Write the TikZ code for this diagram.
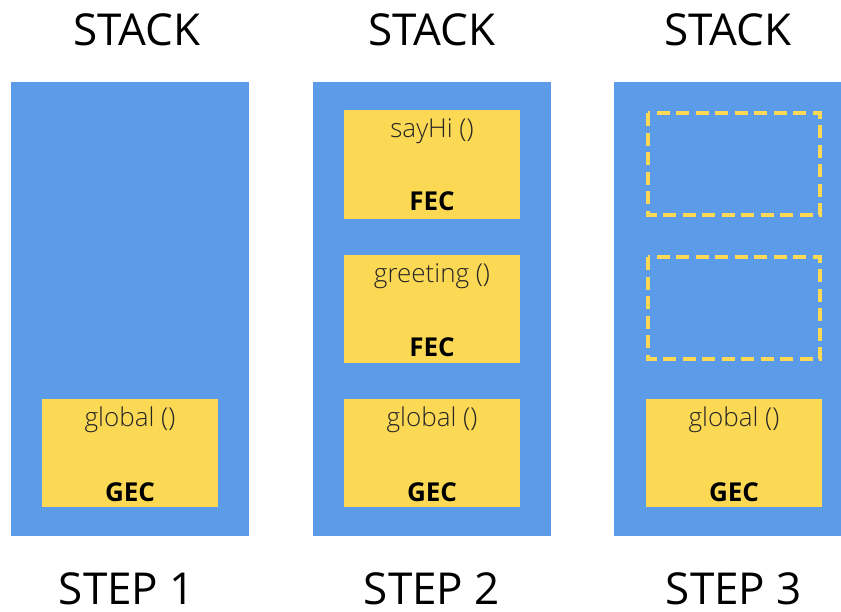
\documentclass[tikz,border=0pt]{standalone}
\usepackage{fontspec}
\setmainfont{Open Sans}
\newfontfamily\lightface{Open Sans Light}
\definecolor{stackblue}{RGB}{91,155,232}
\definecolor{frameyellow}{RGB}{252,217,84}
\begin{document}
\begin{tikzpicture}[x=1pt,y=-1pt,
  panel/.style={fill=stackblue,draw=none},
  frame/.style={fill=frameyellow,draw=none},
  emptyframe/.style={draw=frameyellow,line width=3.6pt,dash pattern=on 13pt off 6.5pt},
  heading/.style={font=\fontsize{44}{44}\selectfont,text=black,inner sep=0pt,anchor=base},
  fname/.style={font=\lightface\fontsize{26}{26}\selectfont,text=black!85,inner sep=0pt,anchor=base},
  ctx/.style={font=\bfseries\fontsize{26}{26}\selectfont,text=black,inner sep=0pt,anchor=base}]
\useasboundingbox (0,0) rectangle (841,611);
\clip (0,0) rectangle (841,611);

% three stack panels
\fill[panel] (11,82) rectangle (249,536);
\fill[panel] (313,82) rectangle (551,536);
\fill[panel] (614,82) rectangle (852,536);

% headings
\node[heading] (h1) at (137,45) {STACK};
\node[heading] (h2) at (432,45) {STACK};
\node[heading] (h3) at (728,45) {STACK};
\node[heading] (s1) at (127,604) {STEP 1};
\node[heading] (s2) at (432,604) {STEP 2};
\node[heading] (s3) at (734,604) {STEP 3};

% step 1
\fill[frame] (42,399) rectangle (218,507);
\node[fname] (g1) at (130,426) {global ()};
\node[ctx] (gec1) at (130,501) {GEC};

% step 2
\fill[frame] (344,110) rectangle (520,219);
\node[fname] (hi2) at (432,137) {sayHi ()};
\node[ctx] (fec2a) at (432,210) {FEC};
\fill[frame] (344,255) rectangle (520,363);
\node[fname] (gr2) at (432,282) {greeting ()};
\node[ctx] (fec2b) at (432,356) {FEC};
\fill[frame] (344,399) rectangle (520,507);
\node[fname] (g2) at (432,426) {global ()};
\node[ctx] (gec2) at (432,501) {GEC};

% step 3
\draw[emptyframe] (648,113) rectangle (820,215);
\draw[emptyframe] (648,257) rectangle (820,359);
\fill[frame] (646,399) rectangle (822,507);
\node[fname] (g3) at (734,426) {global ()};
\node[ctx] (gec3) at (734,501) {GEC};
\end{tikzpicture}
\end{document}
